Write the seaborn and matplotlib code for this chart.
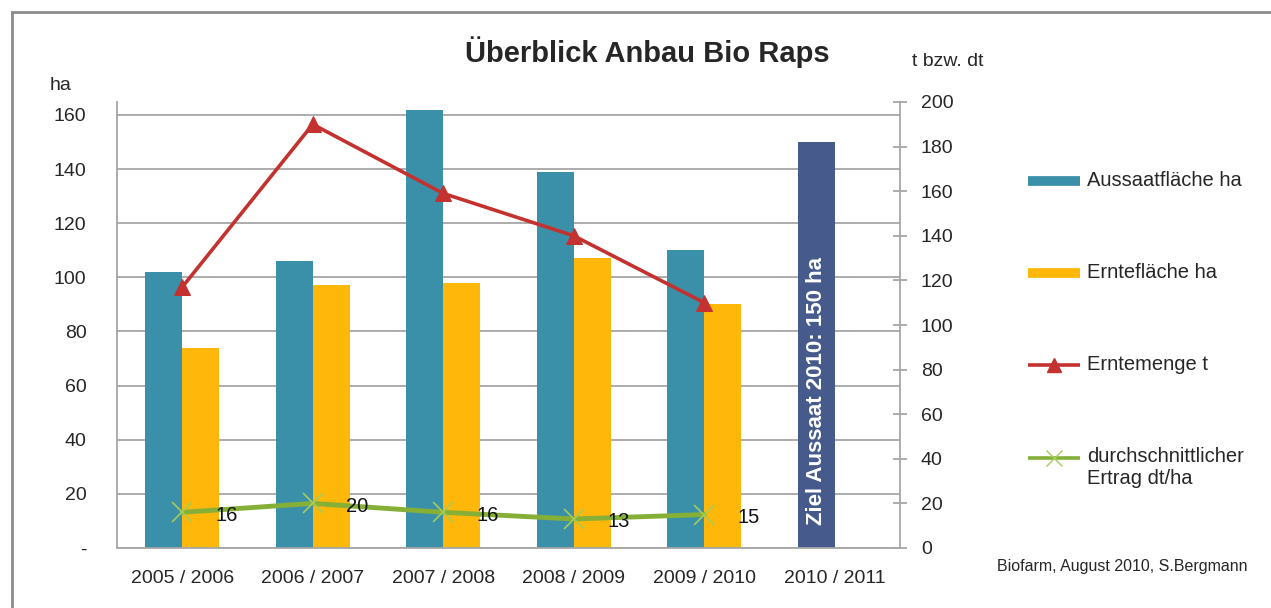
import matplotlib
matplotlib.use("Agg")
import matplotlib.pyplot as plt
import numpy as np
import pandas as pd
import seaborn as sns
from matplotlib.lines import Line2D
from matplotlib.patches import Rectangle

# data
jahre = ["2005 / 2006", "2006 / 2007", "2007 / 2008", "2008 / 2009", "2009 / 2010", "2010 / 2011"]
aussaat_ha = [102, 106, 162, 139, 110]
ernte_ha = [74, 97, 98, 107, 90]
ziel_aussaat_ha = 150
erntemenge_t = [117, 190, 159, 140, 110]
ertrag_dt_ha = [16, 20, 16, 13, 15]

left_ticks = [0, 20, 40, 60, 80, 100, 120, 140, 160]
right_ticks = [0, 20, 40, 60, 80, 100, 120, 140, 160, 180, 200]

TEAL = "#3A90A8"
YELLOW = "#FFB709"
NAVY = "#465A8C"
RED = "#C3322F"
GREEN = "#86AF38"
LIGHTGREEN = "#A3CC5A"
GRAY = "#A6A6A6"

sns.set_style("white")
plt.rcParams["font.family"] = ["Liberation Sans", "DejaVu Sans"]

bars = pd.DataFrame({
    "jahr": jahre[:5] + jahre[:5] + [jahre[5]],
    "wert": aussaat_ha + ernte_ha + [ziel_aussaat_ha],
    "serie": ["Aussaatfläche ha"] * 5 + ["Erntefläche ha"] * 5 + ["Aussaatfläche ha"],
})

fig = plt.figure(figsize=(12.71, 6.08), dpi=100)
ax = fig.add_axes([117 / 1271, 1 - 548 / 608, 783 / 1271, 446 / 608])

sns.barplot(data=bars, x="jahr", y="wert", hue="serie", order=jahre,
            hue_order=["Aussaatfläche ha", "Erntefläche ha"],
            palette=[TEAL, YELLOW], saturation=1, width=0.57, gap=0, linewidth=0,
            legend=False, ax=ax)

# target bar gets its own colour and a label inside
for p in ax.patches:
    if p.get_height() == ziel_aussaat_ha:
        p.set_facecolor(NAVY)
        ax.text(p.get_x() + p.get_width() / 2, 58, f"Ziel Aussaat 2010: {ziel_aussaat_ha} ha",
                rotation=90, ha="center", va="center", color="white",
                fontsize=16, fontweight="bold")

ax.set_ylim(0, 164.8)
ax.set_yticks(left_ticks)
ax.set_yticklabels(["-"] + [str(t) for t in left_ticks[1:]])
ax.tick_params(axis="y", length=0, pad=22, labelsize=14)
ax.tick_params(axis="x", length=0, pad=16, labelsize=14)
ax.set_xlabel("")
ax.set_ylabel("")
ax.yaxis.grid(True, color=GRAY, linewidth=1.3)
ax.set_axisbelow(True)
for s in ["top", "right"]:
    ax.spines[s].set_visible(False)
for s in ["left", "bottom"]:
    ax.spines[s].set_color(GRAY)
    ax.spines[s].set_linewidth(1.3)

ax2 = ax.twinx()
x_pos = np.arange(len(erntemenge_t))
sns.lineplot(x=x_pos, y=erntemenge_t, ax=ax2, color=RED, linewidth=2.6,
             marker="^", markersize=11, markeredgecolor=RED, markerfacecolor=RED)
sns.lineplot(x=x_pos, y=ertrag_dt_ha, ax=ax2, color=GREEN, linewidth=3.5,
             marker="x", markersize=14, markeredgecolor=LIGHTGREEN, markeredgewidth=1.2)
for i, v in enumerate(ertrag_dt_ha):
    ax2.annotate(str(v), (i, v), xytext=(24, -2), textcoords="offset points",
                 ha="left", va="center", fontsize=14.5, color="#111111")

ax2.set_ylim(0, 200)
ax2.set_yticks(right_ticks)
ax2.tick_params(axis="y", direction="inout", length=10, width=1.3, color=GRAY,
                pad=10, labelsize=14)
ax2.set_ylabel("")
for s in ["top", "left", "bottom"]:
    ax2.spines[s].set_visible(False)
ax2.spines["right"].set_color(GRAY)
ax2.spines["right"].set_linewidth(1.3)
ax.set_xlim(-0.5, len(jahre) - 0.5)

# titles and axis captions
fig.text(647 / 1271, 1 - 52 / 608, "Überblick Anbau Bio Raps", ha="center", va="center",
         fontsize=21, fontweight="bold")
fig.text(50 / 1271, 1 - 85 / 608, "ha", ha="left", va="center", fontsize=14)
fig.text(912 / 1271, 1 - 62 / 608, "t bzw. dt", ha="left", va="center", fontsize=14)
fig.text(997 / 1271, 1 - 567 / 608, "Biofarm, August 2010, S.Bergmann", ha="left",
         va="center", fontsize=11.5)

# legend drawn at the right
legend_items = [
    ("Aussaatfläche ha", dict(color=TEAL, linewidth=7), 181),
    ("Erntefläche ha", dict(color=YELLOW, linewidth=7), 273),
    ("Erntemenge t", dict(color=RED, linewidth=2.6, marker="^", markersize=10,
                          markevery=[1]), 365),
    ("durchschnittlicher\nErtrag dt/ha", dict(color=GREEN, linewidth=2.6, marker="x",
                                            markersize=11, markeredgecolor=LIGHTGREEN,
                                            markevery=[1]), 458),
]
for label, style, y in legend_items:
    yf = 1 - y / 608
    fig.add_artist(Line2D([1028 / 1271, 1054 / 1271, 1080 / 1271], [yf, yf, yf],
                          solid_capstyle="butt", **style))
    if "\n" in label:
        fig.text(1087 / 1271, 1 - (y - 11) / 608, label, ha="left", va="top",
                 fontsize=14.5, linespacing=1.2)
    else:
        fig.text(1087 / 1271, yf, label, ha="left", va="center", fontsize=14.5)

# outer frame
fig.add_artist(Rectangle((12 / 1271, -0.1), 1.2, 1.1 - 12 / 608, fill=False,
                         edgecolor="#8C8C8C", linewidth=2, transform=fig.transFigure))

fig.savefig("out.png", dpi=100)
